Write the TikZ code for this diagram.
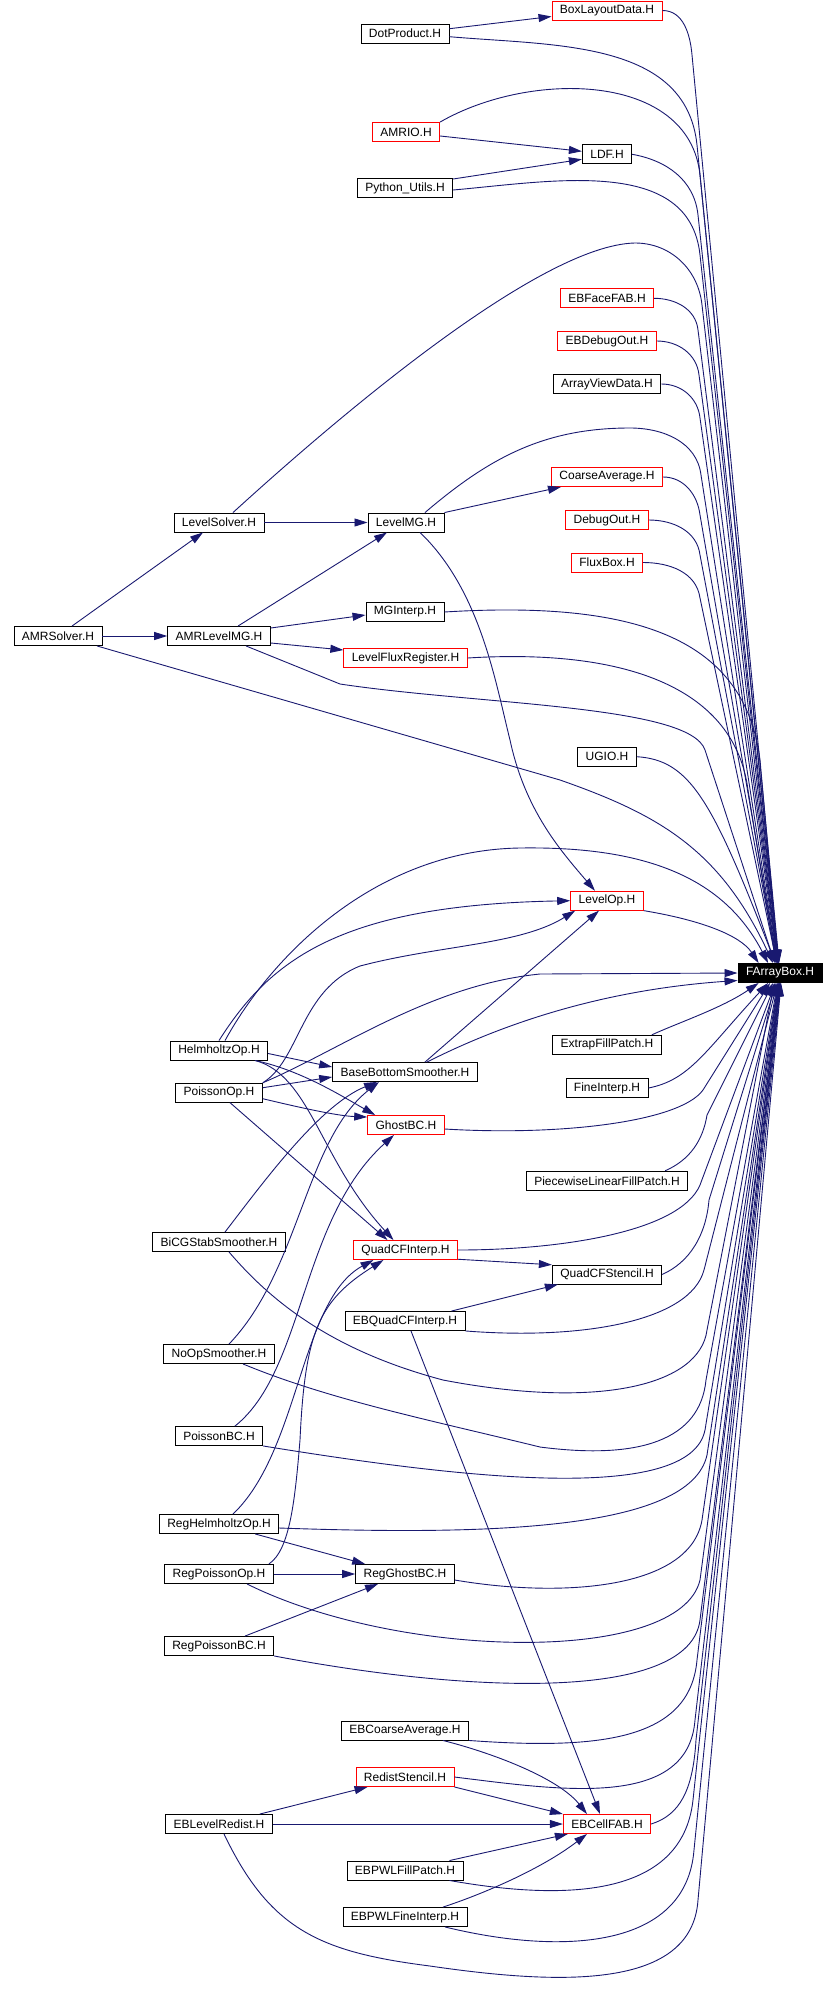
\documentclass[tikz,border=0pt]{standalone}
\usepackage{fontspec}
\setmainfont{Liberation Sans}
\usetikzlibrary{arrows.meta}
\definecolor{edgeBlue}{RGB}{ 25, 25,112}
\definecolor{boxRed}  {RGB}{255,  0,  0}
\tikzset{
  %% header file box
  hfile/.style={
    rectangle, draw=black, line width=0.9pt, fill=white,
    inner xsep=8pt, inner ysep=2pt, minimum height=19pt,
    font=\fontsize{12}{14}\selectfont, text=black
  },
  hfileR/.style={hfile, draw=boxRed},          % file with more includers
  hfileF/.style={hfile, fill=black, text=white}, % the graph root
  %% include arrow
  dep/.style={
    -{Triangle[length=13pt,width=8pt]},
    line width=0.9pt, color=edgeBlue
  }
}

\begin{document}
\begin{tikzpicture}[x=1pt,y=1pt]
\useasboundingbox (0,0) rectangle (837,-2012);

%% ═══════════════════════════════════════════════════════════
%%  FILE NODES
%% ═══════════════════════════════════════════════════════════

% right column
\node[hfileR] (BoxLayoutData) at (607,-10.5) {BoxLayoutData.H};
\node[hfile]  (LDF)           at (607,-154.3) {LDF.H};
\node[hfileR] (EBFaceFAB)     at (607,-298.3) {EBFaceFAB.H};
\node[hfileR] (EBDebugOut)    at (607,-341) {EBDebugOut.H};
\node[hfile]  (ArrayViewData) at (607,-384) {ArrayViewData.H};
\node[hfileR] (CoarseAverage) at (607,-477) {CoarseAverage.H};
\node[hfileR] (DebugOut)      at (607,-520) {DebugOut.H};
\node[hfileR] (FluxBox)       at (607,-562.5) {FluxBox.H};
\node[hfile]  (UGIO)          at (607,-756.7) {UGIO.H};
\node[hfileR] (LevelOp)       at (607,-900.7) {LevelOp.H};
\node[hfile]  (ExtrapFillPatch) at (607,-1044.8) {ExtrapFillPatch.H};
\node[hfile]  (FineInterp)    at (607,-1088) {FineInterp.H};
\node[hfile]  (PiecewiseLinearFillPatch) at (607,-1180.7) {PiecewiseLinearFillPatch.H};
\node[hfile]  (QuadCFStencil) at (607,-1274.5) {QuadCFStencil.H};
\node[hfileR] (EBCellFAB)     at (607,-1824) {EBCellFAB.H};

% root
\node[hfileF] (FArrayBox)     at (780,-973) {FArrayBox.H};

% middle column
\node[hfile]  (DotProduct)    at (405,-33.7) {DotProduct.H};
\node[hfileR] (AMRIO)         at (406,-132) {AMRIO.H};
\node[hfile]  (PythonUtils)   at (405,-188) {Python\_Utils.H};
\node[hfile]  (LevelMG)       at (406,-522.5) {LevelMG.H};
\node[hfile]  (MGInterp)      at (405,-612) {MGInterp.H};
\node[hfileR] (LevelFluxRegister) at (405.5,-658) {LevelFluxRegister.H};
\node[hfile]  (BaseBottomSmoother) at (405,-1072) {BaseBottomSmoother.H};
\node[hfileR] (GhostBC)       at (406,-1125) {GhostBC.H};
\node[hfileR] (QuadCFInterp)  at (405.5,-1250) {QuadCFInterp.H};
\node[hfile]  (EBQuadCFInterp) at (405,-1321) {EBQuadCFInterp.H};
\node[hfile]  (RegGhostBC)    at (405,-1574) {RegGhostBC.H};
\node[hfile]  (EBCoarseAverage) at (405,-1730.5) {EBCoarseAverage.H};
\node[hfileR] (RedistStencil) at (405,-1777) {RedistStencil.H};
\node[hfile]  (EBPWLFillPatch) at (405,-1870.5) {EBPWLFillPatch.H};
\node[hfile]  (EBPWLFineInterp) at (405,-1917) {EBPWLFineInterp.H};

% left column
\node[hfile]  (LevelSolver)   at (219,-522.5) {LevelSolver.H};
\node[hfile]  (AMRSolver)     at (58,-636) {AMRSolver.H};
\node[hfile]  (AMRLevelMG)    at (219,-636) {AMRLevelMG.H};
\node[hfile]  (HelmholtzOp)   at (219,-1050.5) {HelmholtzOp.H};
\node[hfile]  (PoissonOp)     at (219,-1092.7) {PoissonOp.H};
\node[hfile]  (BiCGStabSmoother) at (219,-1242) {BiCGStabSmoother.H};
\node[hfile]  (NoOpSmoother)  at (219,-1354) {NoOpSmoother.H};
\node[hfile]  (PoissonBC)     at (219,-1436) {PoissonBC.H};
\node[hfile]  (RegHelmholtzOp) at (219,-1524) {RegHelmholtzOp.H};
\node[hfile]  (RegPoissonOp)  at (219,-1574) {RegPoissonOp.H};
\node[hfile]  (RegPoissonBC)  at (219,-1646) {RegPoissonBC.H};
\node[hfile]  (EBLevelRedist) at (219,-1824) {EBLevelRedist.H};

%% ═══════════════════════════════════════════════════════════
%%  TOP CLUSTER
%% ═══════════════════════════════════════════════════════════

\draw[dep] ([yshift=5pt]DotProduct.east) -- ([yshift=-6pt]BoxLayoutData.west);
\draw[dep] ([yshift=-4pt]AMRIO.east) -- ([yshift=3pt]LDF.west);
\draw[dep] ([yshift=9pt]PythonUtils.east) -- ([yshift=-5pt]LDF.west);

\draw[dep] (LevelSolver) -- (LevelMG);
\draw[dep] ([xshift=14pt]AMRSolver.north) -- ([xshift=-16pt]LevelSolver.south);
\draw[dep] (AMRSolver) -- (AMRLevelMG);
\draw[dep] ([xshift=19pt]AMRLevelMG.north) -- ([xshift=-19pt]LevelMG.south);
\draw[dep] ([yshift=8pt]AMRLevelMG.east) -- ([yshift=-3pt]MGInterp.west);
\draw[dep] ([yshift=-7pt]AMRLevelMG.east) -- ([yshift=8pt]LevelFluxRegister.west);
\draw[dep] (LevelMG.north east) -- ([xshift=10pt]CoarseAverage.south west);

%% ═══════════════════════════════════════════════════════════
%%  INTO FArrayBox FROM ABOVE
%% ═══════════════════════════════════════════════════════════

\draw[dep] (BoxLayoutData.east) to[out=0,in=95] (692,-55) -- (FArrayBox.95);
\draw[dep] ([yshift=-3pt]DotProduct.east) to[out=-5,in=96] (697,-145) -- (FArrayBox.97);
\draw[dep] (AMRIO.north east) to[out=30,in=96] (700,-175) -- (FArrayBox.99);
\draw[dep] (LDF.east) to[out=-10,in=96] (698,-215) -- (FArrayBox.98);
\draw[dep] ([yshift=-2pt]PythonUtils.east) to[out=5,in=96] (700,-255) -- (FArrayBox.100);
\draw[dep] ([xshift=14pt]LevelSolver.north) .. controls (340,-415) and (540,-245) .. (635,-243)
  to[out=0,in=96] (702,-305) -- (FArrayBox.103);
\draw[dep] (EBFaceFAB.east) to[out=0,in=96] (698,-330) -- (FArrayBox.101);
\draw[dep] (EBDebugOut.east) to[out=0,in=96] (699,-375) -- (FArrayBox.102);
\draw[dep] (ArrayViewData.east) to[out=0,in=96] (700,-418) -- (FArrayBox.104);
\draw[dep] ([xshift=19pt]LevelMG.north) .. controls (490,-457) and (545,-428) .. (630,-428)
  to[out=0,in=97] (701,-475) -- (FArrayBox.106);
\draw[dep] (CoarseAverage.east) to[out=0,in=97] (700,-515) -- (FArrayBox.105);
\draw[dep] (DebugOut.east) to[out=0,in=97] (700,-555) -- (FArrayBox.107);
\draw[dep] (FluxBox.east) to[out=0,in=98] (700,-598) -- (FArrayBox.108);
\draw[dep] (MGInterp.east) .. controls (640,-600) and (745,-640) .. (760,-760) -- (FArrayBox.100);
\draw[dep] (LevelFluxRegister.east) .. controls (630,-648) and (735,-690) .. (748,-790)
  -- (FArrayBox.112);
\draw[dep] ([xshift=27pt]AMRLevelMG.south) -- (340,-684)
  .. controls (480,-705) and (690,-705) .. (705,-750) -- (FArrayBox.118);
\draw[dep] ([xshift=39pt]AMRSolver.south) -- (560,-780)
  .. controls (660,-815) and (720,-850) .. (FArrayBox.125);
\draw[dep] (UGIO.east) .. controls (690,-760) and (712,-800) .. (FArrayBox.115);
\draw[dep] ([xshift=6pt]HelmholtzOp.north) .. controls (275,-950) and (380,-850) .. (520,-848)
  .. controls (650,-846) and (725,-880) .. (FArrayBox.140);
\draw[dep] (LevelOp.south east) .. controls (700,-920) and (740,-935) .. (FArrayBox.155);

%% ═══════════════════════════════════════════════════════════
%%  LevelOp / BaseBottomSmoother / GhostBC / QuadCFInterp
%% ═══════════════════════════════════════════════════════════

\draw[dep] ([xshift=14pt]LevelMG.south) .. controls (480,-590) and (495,-680) .. (510,-740)
  .. controls (525,-810) and (560,-850) .. ([xshift=-12pt]LevelOp.north);
\draw[dep] (HelmholtzOp.north) .. controls (270,-960) and (340,-905) .. (LevelOp.west);
\draw[dep] (PoissonOp.north east) .. controls (300,-1060) and (300,-990) .. (360,-966)
  .. controls (440,-945) and (520,-945) .. ([xshift=5pt]LevelOp.south west);
\draw[dep] ([xshift=20pt]BaseBottomSmoother.north) -- ([xshift=-8pt]LevelOp.south);

% left side into FArrayBox
\draw[dep] (PoissonOp.north east) .. controls (340,-1050) and (430,-985) .. (540,-974)
  -- (FArrayBox.west);
\draw[dep] ([xshift=22pt]BaseBottomSmoother.north) .. controls (500,-1025) and (600,-990)
  .. (FArrayBox.190);

\draw[dep] ([yshift=-3pt]HelmholtzOp.east) -- ([yshift=5pt]BaseBottomSmoother.west);
\draw[dep] ([yshift=5pt]PoissonOp.east) -- ([yshift=-5pt]BaseBottomSmoother.west);
\draw[dep] ([xshift=36pt]HelmholtzOp.south) .. controls (300,-1070) and (340,-1095)
  .. ([xshift=8pt]GhostBC.north west);
\draw[dep] ([yshift=-6pt]PoissonOp.east) .. controls (310,-1110) and (340,-1116)
  .. ([yshift=8pt]GhostBC.west);
\draw[dep] ([xshift=36pt]HelmholtzOp.south) .. controls (310,-1075) and (320,-1160)
  .. ([xshift=-12pt]QuadCFInterp.north);
\draw[dep] ([xshift=11pt]PoissonOp.south) -- ([xshift=-18pt]QuadCFInterp.north);
\draw[dep] ([xshift=6pt]BiCGStabSmoother.north) .. controls (265,-1180) and (320,-1105)
  .. ([xshift=-28pt]BaseBottomSmoother.south);
\draw[dep] ([xshift=10pt]NoOpSmoother.north) .. controls (300,-1270) and (305,-1140)
  .. ([xshift=-26pt]BaseBottomSmoother.south);
\draw[dep] ([xshift=16pt]PoissonBC.north) .. controls (305,-1370) and (300,-1220)
  .. ([xshift=-12pt]GhostBC.south);
\draw[dep] ([xshift=14pt]RegHelmholtzOp.north) .. controls (300,-1450) and (300,-1300)
  .. ([xshift=-32pt]QuadCFInterp.south);
\draw[dep] ([xshift=-5pt]RegPoissonOp.north east) .. controls (290,-1550) and (295,-1500) .. (300,-1440)
  .. controls (305,-1330) and (320,-1300) .. ([xshift=-22pt]QuadCFInterp.south);
\draw[dep] ([xshift=-24pt]RegHelmholtzOp.south east) -- ([xshift=10pt]RegGhostBC.north west);
\draw[dep] (RegPoissonOp) -- (RegGhostBC);
\draw[dep] ([xshift=26pt]RegPoissonBC.north) -- ([xshift=-27pt]RegGhostBC.south);
\draw[dep] (QuadCFInterp.-10) -- (QuadCFStencil.170);
\draw[dep] ([xshift=-14pt]EBQuadCFInterp.north east) -- ([xshift=6pt]QuadCFStencil.south west);
\draw[dep] ([xshift=6pt]EBQuadCFInterp.south) -- ([xshift=-7pt]EBCellFAB.north);

%% ═══════════════════════════════════════════════════════════
%%  EBCellFAB CLUSTER
%% ═══════════════════════════════════════════════════════════

\draw[dep] ([xshift=38pt]EBCoarseAverage.south) .. controls (500,-1755) and (560,-1780)
  .. ([xshift=-20pt]EBCellFAB.north);
\draw[dep] (RedistStencil.south east) -- (EBCellFAB.north west);
\draw[dep] ([xshift=-13pt]EBLevelRedist.north east) -- ([xshift=12pt]RedistStencil.south west);
\draw[dep] (EBLevelRedist) -- (EBCellFAB);
\draw[dep] ([xshift=-14pt]EBPWLFillPatch.north east) -- ([xshift=5pt]EBCellFAB.south west);
\draw[dep] ([xshift=38pt]EBPWLFineInterp.north) .. controls (480,-1895) and (540,-1870)
  .. ([xshift=-20pt]EBCellFAB.south);

%% ═══════════════════════════════════════════════════════════
%%  INTO FArrayBox FROM BELOW
%% ═══════════════════════════════════════════════════════════

\draw[dep] ([xshift=-10pt]ExtrapFillPatch.north east) .. controls (680,-1022) and (722,-1008)
  .. (FArrayBox.205);
\draw[dep] (FineInterp.east) .. controls (690,-1080) and (706,-1050) .. (FArrayBox.220);
\draw[dep] ([yshift=-4pt]GhostBC.east) .. controls (560,-1136) and (680,-1122) .. (703,-1090)
  -- (FArrayBox.225);
\draw[dep] ([xshift=-23pt]PiecewiseLinearFillPatch.north east) .. controls (690,-1160) and (703,-1140)
  .. (707,-1115) -- (FArrayBox.235);
\draw[dep] ([xshift=10pt]BiCGStabSmoother.south) .. controls (270,-1300) and (330,-1350) .. (443,-1380)
  .. controls (600,-1410) and (700,-1385) .. (707,-1330) -- (FArrayBox.240);
\draw[dep] (QuadCFInterp.east) .. controls (560,-1250) and (680,-1232) .. (700,-1185)
  -- (FArrayBox.245);
\draw[dep] (QuadCFStencil.east) .. controls (690,-1262) and (706,-1235) .. (709,-1200)
  -- (FArrayBox.250);
\draw[dep] (EBQuadCFInterp.south east) .. controls (580,-1340) and (690,-1322) .. (704,-1270)
  -- (FArrayBox.255);
\draw[dep] ([xshift=24pt]NoOpSmoother.south) .. controls (330,-1400) and (430,-1420) .. (540,-1447)
  .. controls (640,-1460) and (700,-1440) .. (706,-1380) -- (FArrayBox.257);
\draw[dep] (PoissonBC.south east) .. controls (460,-1478) and (690,-1505) .. (705,-1430)
  -- (FArrayBox.260);
\draw[dep] ([yshift=-4pt]RegHelmholtzOp.east) .. controls (480,-1535) and (690,-1532) .. (707,-1455)
  -- (FArrayBox.262);
\draw[dep] ([yshift=-6pt]RegGhostBC.east) .. controls (560,-1598) and (690,-1590) .. (702,-1520)
  -- (FArrayBox.263);
\draw[dep] ([xshift=28pt]RegPoissonOp.south) .. controls (400,-1660) and (680,-1665) .. (700,-1580)
  -- (FArrayBox.265);
\draw[dep] (RegPoissonBC.south east) .. controls (480,-1695) and (690,-1700) .. (700,-1620)
  -- (FArrayBox.267);
\draw[dep] (EBCoarseAverage.south east) .. controls (600,-1750) and (690,-1740) .. (697,-1660)
  -- (FArrayBox.268);
\draw[dep] (RedistStencil.east) .. controls (560,-1790) and (688,-1810) .. (695,-1720)
  -- (FArrayBox.269);
\draw[dep] (EBCellFAB.east) .. controls (680,-1815) and (693,-1790) .. (696,-1740)
  -- (FArrayBox.270);
\draw[dep] ([xshift=-14pt]EBPWLFillPatch.south east) .. controls (560,-1900) and (682,-1900) .. (693,-1800)
  -- (FArrayBox.272);
\draw[dep] ([xshift=40pt]EBPWLFineInterp.south) .. controls (560,-1955) and (686,-1950) .. (694,-1850)
  -- (FArrayBox.274);
\draw[dep] ([xshift=5pt]EBLevelRedist.south) .. controls (270,-1930) and (320,-1952) .. (430,-1966)
  .. controls (560,-1985) and (692,-1990) .. (698,-1900) -- (FArrayBox.276);

\end{tikzpicture}
\end{document}
